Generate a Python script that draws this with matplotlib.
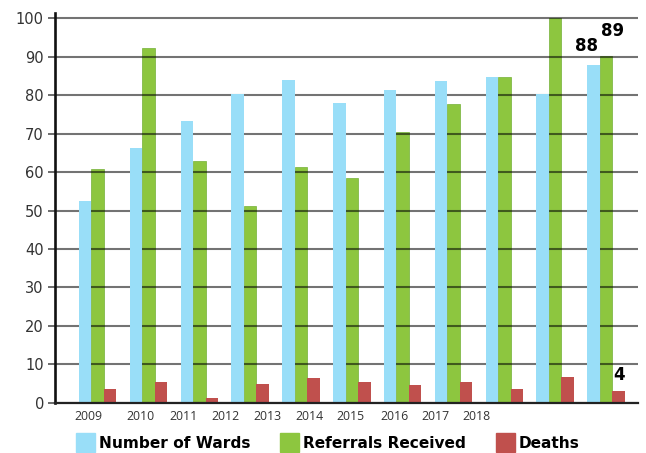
import numpy as np
import matplotlib
matplotlib.use("Agg")
import matplotlib.pyplot as plt
from matplotlib.patches import Patch

# ---- data ----
wards = [52.6, 66.3, 73.4, 80.3, 84.1, 78.1, 81.5, 83.6, 84.8, 80.4, 88.0]
referrals = [60.8, 92.4, 63.0, 51.3, 61.4, 58.6, 70.5, 77.8, 84.8, 100.2, 90.3]
deaths = [3.6, 5.4, 1.1, 4.8, 6.3, 5.4, 4.7, 5.4, 3.6, 6.6, 3.0]
series_names = ["Number of Wards", "Referrals Received", "Deaths"]
year_labels = ["2009", "2010", "2011", "2012", "2013", "2014", "2015", "2016", "2017", "2018"]
year_label_pos = [-0.19, 0.85, 1.68, 2.51, 3.33, 4.16, 4.98, 5.83, 6.64, 7.46]
annot_texts = ["88", "89", "4"]

c_blue = "#99def8"
c_green = "#8dc63f"
c_red = "#c0504d"

fig = plt.figure(figsize=(6.46, 4.53), dpi=100)
ax = fig.add_axes([55 / 646, 1 - 402.7 / 453, (638 - 55) / 646, (402.7 - 12.7) / 453])

x = np.arange(len(wards))
w = 0.246
ax.bar(x - w, wards, w, color=c_blue, zorder=3, linewidth=0)
ax.bar(x, referrals, w, color=c_green, zorder=1, edgecolor="#74b038", linewidth=0.5)
ax.bar(x + w, deaths, w, color=c_red, zorder=3, linewidth=0)

ax.set_xlim(-0.84, 10.63)
ax.set_ylim(0, 101.5)
ax.set_yticks(np.arange(0, 101, 10))
ax.yaxis.grid(True, color="black", alpha=0.55, linewidth=1.5)
ax.set_axisbelow(False)
for gl in ax.get_ygridlines():
    gl.set_zorder(2)

ax.set_xticks(year_label_pos)
ax.set_xticklabels(year_labels, fontfamily="Open Sans", fontsize=8.8, color="#333333")
ax.tick_params(axis="x", length=0, pad=5)
ax.tick_params(axis="y", length=5, width=1.1, color="#444444", pad=3,
               labelsize=10.5, labelcolor="#333333")

for s in ["top", "right"]:
    ax.spines[s].set_visible(False)
ax.spines["left"].set_linewidth(1.9)
ax.spines["left"].set_color("#111111")
ax.spines["bottom"].set_linewidth(1.6)
ax.spines["bottom"].set_color("#222222")
ax.spines["left"].set_zorder(5)
ax.spines["bottom"].set_zorder(5)

# annotations on last group
last = len(wards) - 1
ax.annotate(annot_texts[0], xy=(x[last] - w, wards[last]), xytext=(-5, 7),
            textcoords="offset points", ha="center", va="bottom",
            fontsize=12, fontweight="bold", color="black")
ax.annotate(annot_texts[1], xy=(x[last], referrals[last]), xytext=(4.5, 11),
            textcoords="offset points", ha="center", va="bottom",
            fontsize=12, fontweight="bold", color="black")
ax.annotate(annot_texts[2], xy=(x[last] + w, deaths[last]), xytext=(0.5, 5.5),
            textcoords="offset points", ha="center", va="bottom",
            fontsize=12, fontweight="bold", color="black")

handles = [Patch(color=c_blue), Patch(color=c_green), Patch(color=c_red)]
fig.legend(handles, series_names, loc="center left", bbox_to_anchor=(76 / 646, (453 - 442.5) / 453),
           ncol=3, frameon=False, borderpad=0, borderaxespad=0,
           handlelength=1.22, handleheight=1.45, handletextpad=0.25, columnspacing=1.95,
           prop={"weight": "bold", "size": 11.1})

fig.savefig("out.png", dpi=100)
